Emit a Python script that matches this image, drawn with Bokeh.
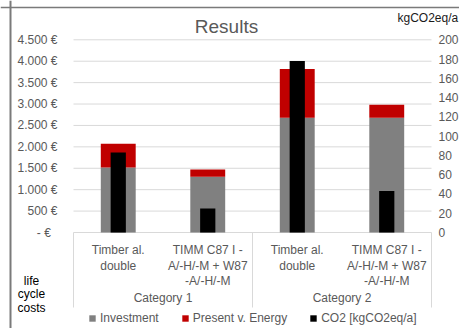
from bokeh.plotting import figure
from bokeh.models import Range1d, Legend, LegendItem, ColumnDataSource, Span
from bokeh.core.properties import value
from bokeh.embed import file_html
from bokeh.resources import INLINE

# ---- data ----
groups = ["Category 1", "Category 1", "Category 2", "Category 2"]
variants = ["Timber al.\ndouble", "TIMM C87 I -\nA/-H/-M + W87\n-A/-H/-M",
            "Timber al.\ndouble", "TIMM C87 I -\nA/-H/-M + W87\n-A/-H/-M"]
investment = [1520, 1300, 2680, 2680]
energy = [550, 170, 1140, 305]
co2 = [83, 25, 178, 43]

cost_ticks = [0, 500, 1000, 1500, 2000, 2500, 3000, 3500, 4000, 4500]
cost_labels = ["-   €", "500 €", "1.000 €", "1.500 €", "2.000 €", "2.500 €",
               "3.000 €", "3.500 €", "4.000 €", "4.500 €"]
co2_ticks = [0, 20, 40, 60, 80, 100, 120, 140, 160, 180, 200]
cost_max = 4500
co2_max = 200

# ---- layout constants (pixels in the figure) ----
W, H = 459, 328
X0, CW = 73, 89.5        # left edge of category area, width of one category
Y0, YH = 232, 192.7      # pixel row of value 0, pixel height of the value axis
K = cost_max / YH
KC = co2_max / YH


def px_x(fx):
    return (fx - X0) / CW


def px_y(fy):
    return (Y0 - fy) * K


FONT = value("Liberation Sans")
TXT = "#595959"
GRID = "#D9D9D9"

n = len(variants)
xs = [i + 0.5 for i in range(n)]
src = ColumnDataSource(dict(x=xs, inv=investment, en=energy, co2=co2))

p = figure(width=W, height=H, x_range=Range1d(px_x(0), px_x(W)),
           y_range=Range1d(px_y(H), px_y(0)), output_backend="svg",
           toolbar_location=None, x_axis_type=None, y_axis_type=None, min_border=0)
p.extra_y_ranges = {"co2": Range1d((Y0 - H) * KC, Y0 * KC)}
p.outline_line_color = None
p.background_fill_color = "white"
p.border_fill_color = "white"

# gridlines + base line of the value axis
p.segment(x0=[0] * len(cost_ticks), x1=[n] * len(cost_ticks), y0=cost_ticks, y1=cost_ticks,
          line_color=GRID, line_width=1)

# category table separators
bounds = [0]
for i in range(1, n):
    if groups[i] != groups[i - 1]:
        bounds.append(i)
bounds.append(n)
p.segment(x0=bounds, x1=bounds, y0=[0] * len(bounds), y1=[px_y(307)] * len(bounds),
          line_color=GRID, line_width=1)

# bars
r_st = p.vbar_stack(["inv", "en"], x="x", width=0.39, source=src,
                    color=["#808080", "#C00000"], line_width=0)
r_co2 = p.vbar(x="x", top="co2", width=0.17, source=src, color="#000000",
               line_width=0, y_range_name="co2")

# left value labels
p.text(x=[px_x(57)] * len(cost_ticks), y=cost_ticks, text=cost_labels, text_align="right",
       text_baseline="middle", text_font=FONT, text_font_size="12px", text_color=TXT)
# right CO2 labels
p.text(x=[px_x(X0 + n * CW + 7)] * len(co2_ticks), y=co2_ticks, text=[str(t) for t in co2_ticks],
       text_align="left", text_baseline="middle", text_font=FONT, text_font_size="12px",
       text_color=TXT, y_range_name="co2")

# category labels
p.text(x=xs, y=[px_y(242.5)] * n, text=variants, text_align="center", text_baseline="top",
       text_font=FONT, text_font_size="12px", text_color=TXT, text_line_height=1.12)
glabels, gx = [], []
for a, b in zip(bounds[:-1], bounds[1:]):
    glabels.append(groups[a])
    gx.append((a + b) / 2)
p.text(x=gx, y=[px_y(297)] * len(gx), text=glabels, text_align="center", text_baseline="middle",
       text_font=FONT, text_font_size="12px", text_color=TXT)

# titles and side texts
p.text(x=[px_x(226)], y=[px_y(25.5)], text=["Results"], text_align="center", text_baseline="middle",
       text_font=FONT, text_font_size="19px", text_color=TXT)
p.text(x=[px_x(397)], y=[px_y(17)], text=["kgCO2eq/a"], text_align="left", text_baseline="middle",
       text_font=FONT, text_font_size="12px", text_color="#1a1a1a")
p.text(x=[px_x(31)], y=[px_y(273)], text=["life\ncycle\ncosts"], text_align="center",
       text_baseline="top", text_font=FONT, text_font_size="12px", text_color="#000000",
       text_line_height=0.98)

# chart area border (left and top)
p.add_layout(Span(location=px_x(10), dimension="height", line_color="#7a7a7a", line_width=2))
p.add_layout(Span(location=px_y(7), dimension="width", line_color="#7a7a7a", line_width=1.5))

leg = Legend(items=[LegendItem(label="Investment", renderers=[r_st[0]]),
                    LegendItem(label="Present v. Energy", renderers=[r_st[1]]),
                    LegendItem(label="CO2 [kgCO2eq/a]", renderers=[r_co2])],
             orientation="horizontal", location=(88, 3), glyph_width=8, glyph_height=8,
             label_height=12, label_text_font="Liberation Sans", label_text_font_size="12px",
             label_text_color=TXT, border_line_color=None, background_fill_color=None,
             padding=0, margin=0, spacing=22, label_standoff=4)
p.add_layout(leg)

open("out.html", "w").write(file_html(p, INLINE))
